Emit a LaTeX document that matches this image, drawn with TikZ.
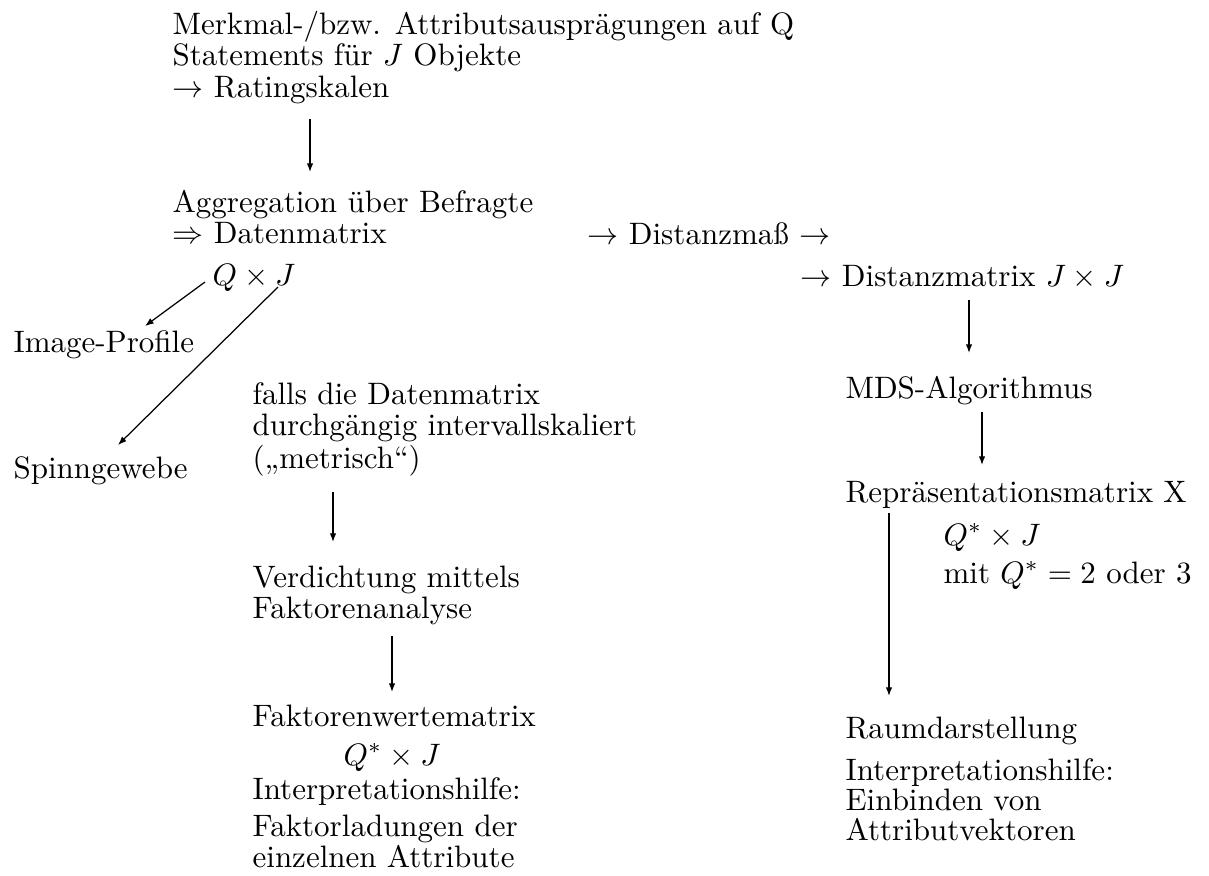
\documentclass[tikz,border=0pt]{standalone}
\usetikzlibrary{arrows.meta}
\newcommand{\mlines}[1]{\begin{tabular}[t]{@{}l@{}}#1\end{tabular}}
\begin{document}
\begin{tikzpicture}[x=0.32258pt,y=-0.32258pt,
  txt/.style={anchor=base west, inner sep=0pt, font=\fontsize{10}{10.2}\selectfont},
  arr/.style={-{Latex[length=2.8pt,width=2.1pt]}, line width=0.4pt}]
\useasboundingbox (0,0) rectangle (1209,875);
% texts
\node[txt] (merk) at (172,34) {\mlines{Merkmal-/bzw. Attributsausprägungen auf Q\\ Statements für $J$ Objekte\\ $\rightarrow$ Ratingskalen}};
\node[txt] (agg) at (172,212) {\mlines{Aggregation über Befragte\\ $\Rightarrow$ Datenmatrix}};
\node[txt] (dist) at (587,244) {$\rightarrow$ Distanzmaß $\rightarrow$};
\node[txt] (qj) at (212,285) {$Q\times J$};
\node[txt] (dm) at (800,286) {$\rightarrow$ Distanzmatrix $J\times J$};
\node[txt] (img) at (13,352) {Image-Profile};
\node[txt] (spin) at (13,478) {Spinngewebe};
\node[txt] (falls) at (252,404) {\mlines{falls die Datenmatrix\\ durchgängig intervallskaliert\\ („metrisch“)}};
\node[txt] (verd) at (252,587) {\mlines{Verdichtung mittels\\ Faktorenanalyse}};
\node[txt] (fwm) at (252,726) {Faktorenwertematrix};
\node[txt] (qsj1) at (343,765) {$Q^{*}\times J$};
\node[txt] (ih1) at (252,799) {Interpretationshilfe:};
\node[txt] (fl) at (252,836) {\mlines{Faktorladungen der\\ einzelnen Attribute}};
\node[txt] (mds) at (845,398) {MDS-Algorithmus};
\node[txt] (rep) at (845,502) {Repräsentationsmatrix X};
\node[txt] (qsj2) at (943,545) {$Q^{*}\times J$};
\node[txt] (mit) at (943,583) {mit $Q^{*}=2$ oder 3};
\node[txt] (raum) at (845,738) {Raumdarstellung};
\node[txt] (ih2) at (845,780) {\mlines{Interpretationshilfe:\\[-0.5pt] Einbinden von\\[-0.5pt] Attributvektoren}};
% arrows
\draw[arr] ([shift={(138,85)}]merk.base west) -- ([shift={(138,-40)}]agg.base west);
\draw[arr] ([shift={(-7,-3)}]qj.base west) -- ([shift={(132,-26)}]img.base west);
\draw[arr] ([shift={(66,2)}]qj.base west) -- ([shift={(105,-33)}]spin.base west);
\draw[arr] ([shift={(81,88)}]falls.base west) -- ([shift={(81,-45)}]verd.base west);
\draw[arr] ([shift={(140,49)}]verd.base west) -- ([shift={(140,-34)}]fwm.base west);
\draw[arr] ([shift={(169,14)}]dm.base west) -- ([shift={(124,-45)}]mds.base west);
\draw[arr] ([shift={(137,14)}]mds.base west) -- ([shift={(137,-37)}]rep.base west);
\draw[arr] ([shift={(44,11)}]rep.base west) -- ([shift={(44,-42)}]raum.base west);
\end{tikzpicture}
\end{document}
